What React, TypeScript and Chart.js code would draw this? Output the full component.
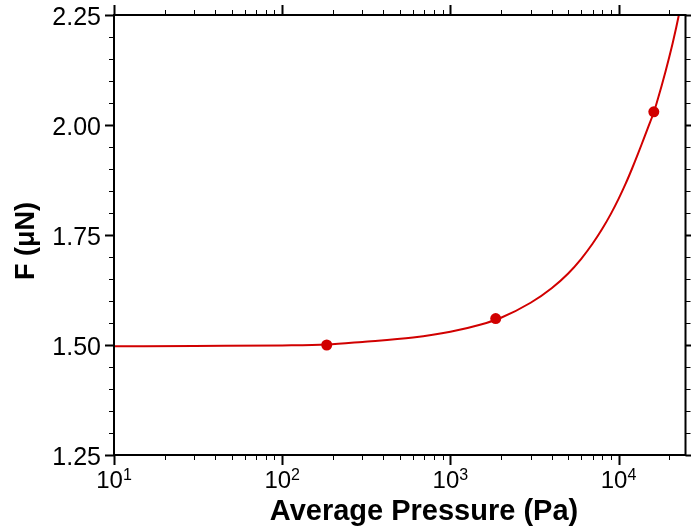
import React, { useEffect, useRef } from "react";
import { Chart, registerables } from "chart.js";

Chart.register(...registerables);

// Fitted curve
const curvePressure = [10, 30, 100, 184, 300, 600, 1000, 1500, 2000, 3000, 4000, 5000, 6000, 7000, 8000, 9000, 10000, 11000, 12000, 13000, 14000, 15000, 16200, 17000, 18000, 19000, 20000, 21000, 22000, 23000];
const curveForce = [1.497, 1.498, 1.499, 1.501, 1.507, 1.517, 1.530, 1.546, 1.562, 1.596, 1.629, 1.662, 1.696, 1.730, 1.764, 1.798, 1.832, 1.866, 1.900, 1.933, 1.965, 1.995, 2.029, 2.055, 2.088, 2.121, 2.154, 2.187, 2.221, 2.256];

// Measured points
const pointPressure = [184, 1860, 16200];
const pointForce = [1.5, 1.56, 2.03];

// Axis ticks
const yMajorTicks = [1.25, 1.5, 1.75, 2.0, 2.25];
const yTickLabels = ["1.25", "1.50", "1.75", "2.00", "2.25"];
const xMajorTicks = [10, 100, 1000, 10000];
const xTickExponents = ["1", "2", "3", "4"];

const X_MIN = 10;
const X_MAX = 25000;
const Y_MIN = 1.25;
const Y_MAX = 2.25;

const RED = "#d10000";
const FONT = '"Liberation Sans", Arial, Helvetica, sans-serif';

const framePlugin = {
  id: "frameTicks",
  afterDraw(chart: any) {
    const ctx = chart.ctx as CanvasRenderingContext2D;
    const { left, right, top, bottom } = chart.chartArea;
    const xs = chart.scales.x;
    const ys = chart.scales.y;
    ctx.save();
    ctx.strokeStyle = "#000";
    ctx.fillStyle = "#000";

    // y ticks (minor every 0.05)
    for (let i = 0; i <= 20; i++) {
      const v = Y_MIN + i * 0.05;
      const major = i % 5 === 0;
      const y = Math.round(ys.getPixelForValue(v)) + 0.5;
      const len = major ? 9 : 5;
      ctx.lineWidth = major ? 2 : 1;
      ctx.beginPath();
      ctx.moveTo(left - len, y);
      ctx.lineTo(left, y);
      ctx.moveTo(right, y);
      ctx.lineTo(right + len, y);
      ctx.stroke();
    }

    // x ticks (log)
    for (let d = 1; d <= 10000; d *= 10) {
      for (let m = 1; m <= 9; m++) {
        const v = d * m;
        if (v < X_MIN || v > X_MAX) continue;
        const major = m === 1;
        const x = Math.round(xs.getPixelForValue(v)) + 0.5;
        const len = major ? 10 : 5;
        ctx.lineWidth = major ? 2 : 1;
        ctx.beginPath();
        ctx.moveTo(x, bottom);
        ctx.lineTo(x, bottom + len);
        ctx.moveTo(x, top);
        ctx.lineTo(x, top - len);
        ctx.stroke();
      }
    }

    // frame
    ctx.lineWidth = 2;
    ctx.strokeRect(left, top, right - left, bottom - top);

    // y tick labels
    ctx.font = `25px ${FONT}`;
    ctx.textAlign = "right";
    ctx.textBaseline = "alphabetic";
    yMajorTicks.forEach((v, i) => {
      const y = ys.getPixelForValue(v);
      ctx.fillText(yTickLabels[i], left - 13, y + 10);
    });

    // x tick labels 10^n
    xMajorTicks.forEach((v, i) => {
      const x = xs.getPixelForValue(v);
      ctx.font = `24px ${FONT}`;
      const wb = ctx.measureText("10").width;
      ctx.font = `16px ${FONT}`;
      const we = ctx.measureText(xTickExponents[i]).width;
      const x0 = x - (wb + we) / 2;
      ctx.textAlign = "left";
      ctx.font = `24px ${FONT}`;
      ctx.fillText("10", x0, bottom + 33);
      ctx.font = `16px ${FONT}`;
      ctx.fillText(xTickExponents[i], x0 + wb, bottom + 25);
    });

    // axis titles
    ctx.font = `bold 29px ${FONT}`;
    ctx.textAlign = "center";
    ctx.fillText("Average Pressure (Pa)", 424, 520);

    ctx.save();
    ctx.translate(34, 241);
    ctx.rotate(-Math.PI / 2);
    ctx.font = `bold 27px ${FONT}`;
    ctx.textAlign = "center";
    ctx.fillText("F (\u03bcN)", 0, 0);
    ctx.restore();

    ctx.restore();
  },
};

export default function App() {
  const ref = useRef<HTMLCanvasElement>(null);

  useEffect(() => {
    document.body.style.margin = "0";
    const canvas = ref.current!;
    const chart = new Chart(canvas, {
      type: "scatter",
      data: {
        datasets: [
          {
            data: curvePressure.map((x, i) => ({ x, y: curveForce[i] })),
            showLine: true,
            borderColor: RED,
            borderWidth: 2,
            pointRadius: 0,
            cubicInterpolationMode: "monotone",
          },
          {
            data: pointPressure.map((x, i) => ({ x, y: pointForce[i] })),
            showLine: false,
            backgroundColor: RED,
            borderColor: RED,
            pointRadius: 5.5,
            borderWidth: 0,
          },
        ],
      } as any,
      options: {
        animation: false,
        responsive: false,
        layout: { padding: { top: 15, right: 5, left: 0, bottom: 0 } },
        plugins: { legend: { display: false }, tooltip: { enabled: false } },
        scales: {
          x: {
            type: "logarithmic",
            min: X_MIN,
            max: X_MAX,
            grid: { display: false },
            border: { display: false },
            ticks: { display: false },
            afterFit: (s: any) => {
              s.height = 76;
            },
          },
          y: {
            type: "linear",
            min: Y_MIN,
            max: Y_MAX,
            grid: { display: false },
            border: { display: false },
            ticks: { display: false },
            afterFit: (s: any) => {
              s.width = 114;
            },
          },
        },
      } as any,
      plugins: [framePlugin],
    });
    return () => chart.destroy();
  }, []);

  return (
    <div style={{ width: 691, height: 531 }}>
      <canvas ref={ref} width={691} height={531} style={{ display: "block" }} />
    </div>
  );
}
